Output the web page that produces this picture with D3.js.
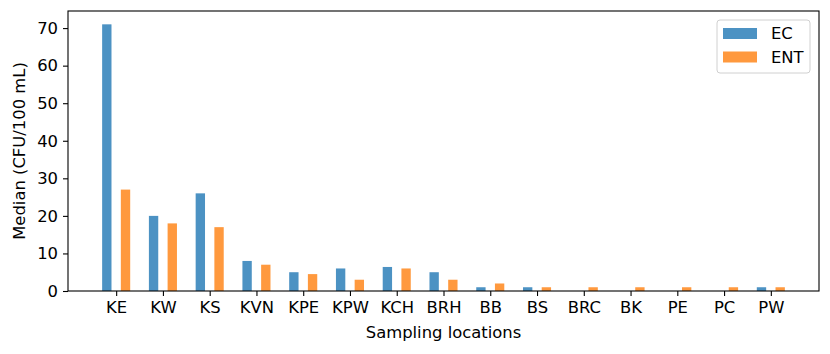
<!DOCTYPE html>
<html>
<head>
<meta charset="utf-8">
<script src="https://cdn.jsdelivr.net/npm/d3@7"></script>
<style>
    body { margin: 0; background: #fff; }
    text { font-family: "DejaVu Sans", sans-serif; fill: #000; }
</style>
</head>
<body>
<div id="chart"></div>
<script>
// sampling sites and the two medians per site
const locations = ["KE", "KW", "KS", "KVN", "KPE", "KPW", "KCH", "BRH", "BB", "BS", "BRC", "BK", "PE", "PC", "PW"];
const ecValues = [71, 20, 26, 8, 5, 6, 6.4, 5, 1, 1, 0, 0, 0, 0, 1];
const entValues = [27, 18, 17, 7, 4.5, 3, 6, 3, 2, 1, 1, 1, 1, 1, 1];
const yTicks = [0, 10, 20, 30, 40, 50, 60, 70];
const seriesNames = ["EC", "ENT"];
const seriesColors = ["#1f77b4", "#ff7f0e"];

const width = 830, height = 354;
const margin = { top: 11, right: 11, bottom: 63, left: 68 };
const fontSize = 16.4;

const svg = d3.select("#chart").append("svg")
    .attr("width", width)
    .attr("height", height);

const x = d3.scaleLinear()
    .domain([-1.03, locations.length - 1 + 1.03])
    .range([margin.left, width - margin.right]);

const y = d3.scaleLinear()
    .domain([0, 71 * 1.05])
    .range([height - margin.bottom, margin.top]);

const barW = 0.2;
const series = [ecValues, entValues];
const offsets = [-0.2, 0.2];

series.forEach((vals, s) => {
    svg.append("g")
        .selectAll("rect")
        .data(vals)
        .enter()
        .append("rect")
        .attr("x", (d, i) => x(i + offsets[s] - barW / 2))
        .attr("width", (d, i) => x(i + offsets[s] + barW / 2) - x(i + offsets[s] - barW / 2))
        .attr("y", d => y(d))
        .attr("height", d => y(0) - y(d))
        .attr("fill", seriesColors[s])
        .attr("fill-opacity", 0.8);
});

// axes
const xAxis = svg.append("g")
    .attr("transform", `translate(0,${height - margin.bottom})`)
    .call(d3.axisBottom(x).tickValues(d3.range(locations.length)).tickFormat(i => locations[i]).tickSize(5).tickPadding(5));

const yAxis = svg.append("g")
    .attr("transform", `translate(${margin.left},0)`)
    .call(d3.axisLeft(y).tickValues(yTicks).tickSize(5).tickPadding(5));

[xAxis, yAxis].forEach(g => {
    g.select(".domain").remove();
    g.selectAll(".tick line").attr("stroke", "#000").attr("stroke-width", 1.1);
    g.selectAll(".tick text").attr("font-size", fontSize).attr("font-family", "DejaVu Sans");
});

// frame
svg.append("rect")
    .attr("x", margin.left)
    .attr("y", margin.top)
    .attr("width", width - margin.right - margin.left)
    .attr("height", height - margin.bottom - margin.top)
    .attr("fill", "none")
    .attr("stroke", "#000")
    .attr("stroke-width", 1.1);

svg.append("text")
    .attr("x", (margin.left + width - margin.right) / 2)
    .attr("y", 338)
    .attr("text-anchor", "middle")
    .attr("font-size", fontSize)
    .text("Sampling locations");

svg.append("text")
    .attr("transform", `translate(25,${(margin.top + height - margin.bottom) / 2}) rotate(-90)`)
    .attr("text-anchor", "middle")
    .attr("font-size", fontSize)
    .text("Median (CFU/100 mL)");

// legend
const legend = svg.append("g").attr("transform", "translate(717,20)");
legend.append("rect")
    .attr("width", 93)
    .attr("height", 53)
    .attr("rx", 3)
    .attr("fill", "#fff")
    .attr("fill-opacity", 0.8)
    .attr("stroke", "#d0d0d0")
    .attr("stroke-width", 1);

seriesNames.forEach((name, s) => {
    legend.append("rect")
        .attr("x", 6)
        .attr("y", 8 + s * 23.5)
        .attr("width", 34)
        .attr("height", 11)
        .attr("fill", seriesColors[s])
        .attr("fill-opacity", 0.8);
    legend.append("text")
        .attr("x", 54)
        .attr("y", 13.5 + s * 23.5)
        .attr("dy", "0.35em")
        .attr("font-size", fontSize)
        .text(name);
});
</script>
</body>
</html>
